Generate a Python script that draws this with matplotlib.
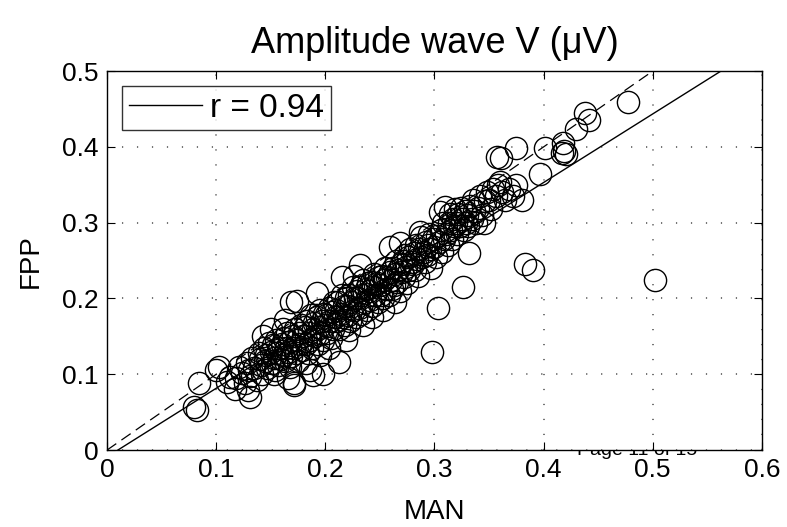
import matplotlib
matplotlib.use("Agg")
import matplotlib.pyplot as plt
import numpy as np

plt.rcParams['font.family'] = ['Liberation Sans', 'DejaVu Sans']

# --- data ---
man = [
    0.080, 0.082, 0.084, 0.100, 0.103, 0.110, 0.113, 0.117, 0.129, 0.131, 0.171, 0.189,
    0.118, 0.121, 0.124, 0.126,
    0.128, 0.131, 0.133, 0.135, 0.137, 0.130,
    0.139, 0.141, 0.142, 0.144, 0.145, 0.146, 0.147, 0.140, 0.143, 0.148,
    0.150, 0.151, 0.152, 0.153, 0.154, 0.155, 0.156, 0.157, 0.158, 0.159, 0.150, 0.153,
    0.160, 0.161, 0.162, 0.163, 0.164, 0.165, 0.166, 0.167, 0.168, 0.169, 0.161, 0.166, 0.163,
    0.170, 0.171, 0.172, 0.173, 0.174, 0.175, 0.176, 0.177, 0.178, 0.179, 0.171, 0.174, 0.169,
    0.180, 0.181, 0.182, 0.183, 0.184, 0.185, 0.186, 0.187, 0.188, 0.189, 0.182, 0.186,
    0.190, 0.191, 0.192, 0.193, 0.194, 0.195, 0.196, 0.197, 0.198, 0.199, 0.192, 0.195, 0.198,
    0.200, 0.201, 0.202, 0.203, 0.204, 0.205, 0.206, 0.207, 0.208, 0.209, 0.203,
    0.210, 0.211, 0.212, 0.213, 0.214, 0.215, 0.216, 0.217, 0.218, 0.219, 0.213, 0.215, 0.219,
    0.220, 0.221, 0.222, 0.223, 0.224, 0.225, 0.226, 0.227, 0.228, 0.229, 0.222, 0.226,
    0.230, 0.231, 0.232, 0.233, 0.234, 0.235, 0.236, 0.237, 0.238, 0.239, 0.232, 0.235,
    0.240, 0.241, 0.242, 0.243, 0.244, 0.245, 0.246, 0.247, 0.248, 0.249, 0.243,
    0.250, 0.251, 0.252, 0.253, 0.254, 0.255, 0.256, 0.257, 0.258, 0.259, 0.253,
    0.260, 0.261, 0.262, 0.263, 0.264, 0.265, 0.266, 0.267, 0.268, 0.269, 0.259, 0.268, 0.264,
    0.270, 0.271, 0.272, 0.273, 0.274, 0.275, 0.276, 0.277, 0.278, 0.279,
    0.280, 0.281, 0.282, 0.283, 0.284, 0.285, 0.286, 0.287, 0.288, 0.289,
    0.290, 0.291, 0.292, 0.293, 0.294, 0.295, 0.296, 0.297, 0.298, 0.299,
    0.300, 0.301, 0.302, 0.303, 0.304, 0.305, 0.306, 0.307, 0.308, 0.309,
    0.310, 0.311, 0.312, 0.313, 0.314, 0.315, 0.316, 0.317, 0.318, 0.319,
    0.320, 0.321, 0.322, 0.323, 0.324, 0.325, 0.326, 0.327, 0.328, 0.329,
    0.330, 0.331, 0.332, 0.333, 0.334, 0.335, 0.336, 0.338,
    0.340, 0.342, 0.344, 0.346, 0.348, 0.345,
    0.350, 0.352, 0.354, 0.356, 0.358, 0.357, 0.360,
    0.361, 0.362, 0.365, 0.368, 0.372, 0.375, 0.375, 0.380, 0.383, 0.390, 0.397, 0.401,
    0.417, 0.419, 0.421, 0.418, 0.430, 0.438, 0.442, 0.477, 0.502,
]
fpp = [
    0.057, 0.053, 0.088, 0.106, 0.110, 0.090, 0.097, 0.081, 0.079, 0.070, 0.086, 0.099,
    0.095, 0.110, 0.102, 0.088,
    0.115, 0.098, 0.122, 0.108, 0.092, 0.105,
    0.128, 0.112, 0.100, 0.135, 0.118, 0.125, 0.108, 0.120, 0.150, 0.141,
    0.130, 0.115, 0.138, 0.122, 0.105, 0.145, 0.128, 0.112, 0.135, 0.120, 0.160, 0.100,
    0.140, 0.126, 0.148, 0.118, 0.135, 0.155, 0.130, 0.142, 0.110, 0.124, 0.160, 0.095, 0.172,
    0.150, 0.135, 0.160, 0.128, 0.145, 0.118, 0.155, 0.140, 0.165, 0.132, 0.088, 0.197, 0.195,
    0.150, 0.162, 0.140, 0.170, 0.128, 0.155, 0.145, 0.178, 0.135, 0.160, 0.115, 0.105,
    0.168, 0.150, 0.175, 0.140, 0.162, 0.185, 0.155, 0.170, 0.145, 0.180, 0.207, 0.125, 0.100,
    0.165, 0.178, 0.155, 0.188, 0.170, 0.148, 0.182, 0.160, 0.195, 0.175, 0.135,
    0.185, 0.170, 0.195, 0.160, 0.180, 0.205, 0.175, 0.190, 0.165, 0.200, 0.116, 0.229, 0.145,
    0.190, 0.178, 0.205, 0.170, 0.195, 0.215, 0.185, 0.200, 0.175, 0.210, 0.158, 0.230,
    0.200, 0.188, 0.215, 0.180, 0.205, 0.225, 0.195, 0.212, 0.185, 0.220, 0.244, 0.165,
    0.210, 0.198, 0.222, 0.190, 0.215, 0.232, 0.205, 0.220, 0.195, 0.228, 0.175,
    0.218, 0.205, 0.230, 0.200, 0.225, 0.240, 0.212, 0.228, 0.205, 0.235, 0.185,
    0.225, 0.212, 0.240, 0.218, 0.232, 0.250, 0.222, 0.238, 0.210, 0.245, 0.268, 0.273, 0.195,
    0.235, 0.250, 0.228, 0.258, 0.242, 0.220, 0.255, 0.238, 0.265, 0.248,
    0.245, 0.260, 0.238, 0.270, 0.252, 0.230, 0.265, 0.288, 0.281, 0.255,
    0.262, 0.248, 0.275, 0.258, 0.270, 0.285, 0.265, 0.240, 0.129, 0.278,
    0.268, 0.255, 0.282, 0.187, 0.275, 0.314, 0.290, 0.262, 0.300, 0.278,
    0.321, 0.285, 0.270, 0.300, 0.312, 0.290, 0.278, 0.305, 0.295, 0.318,
    0.300, 0.285, 0.312, 0.295, 0.320, 0.305, 0.215, 0.290, 0.315, 0.300,
    0.310, 0.295, 0.260, 0.322, 0.305, 0.330, 0.315, 0.300,
    0.320, 0.335, 0.310, 0.328, 0.340, 0.300,
    0.330, 0.318, 0.345, 0.335, 0.350, 0.387, 0.354,
    0.385, 0.340, 0.330, 0.345, 0.335, 0.350, 0.399, 0.330, 0.245, 0.238, 0.364, 0.398,
    0.392, 0.394, 0.391, 0.405, 0.424, 0.445, 0.435, 0.459, 0.224,
]
r_label = "r = 0.94"
fit_slope = 0.905
fit_intercept = -0.009
xticks = [0, 0.1, 0.2, 0.3, 0.4, 0.5, 0.6]
yticks = [0, 0.1, 0.2, 0.3, 0.4, 0.5]

fig = plt.figure(figsize=(7.87, 5.27), dpi=100)
ax = fig.add_axes([0.136, 0.146, 0.832, 0.719])

ax.plot(man, fpp, 'o', mfc='none', mec='black', ms=16, mew=1.0, zorder=3)
xs = np.array([0.0, 0.6])
ax.plot(xs, fit_slope * xs + fit_intercept, '-', color='black', lw=1.0,
        label=r_label, zorder=4)
ax.plot(xs, xs, color='black', lw=0.9, dashes=(9, 5), zorder=4)

ax.set_xlim(0, 0.6)
ax.set_ylim(0, 0.5)
ax.set_xticks(xticks)
ax.set_yticks(yticks)
ax.set_xticklabels(["0", "0.1", "0.2", "0.3", "0.4", "0.5", "0.6"])
ax.set_yticklabels(["0", "0.1", "0.2", "0.3", "0.4", "0.5"])
ax.tick_params(direction='in', length=6, width=0.8, labelsize=19, top=True, right=True, pad=6)
ax.grid(True, color='0.3', linestyle=(0, (0.8, 9)), linewidth=1.1)
for s in ax.spines.values():
    s.set_linewidth(1.0)

ax.set_title("Amplitude wave V (\u03bcV)", fontsize=26, pad=13)
ax.set_xlabel("MAN", fontsize=20, labelpad=12)
ax.set_ylabel("FPP", fontsize=20, labelpad=13)

leg = ax.legend(loc='upper left', fontsize=24, frameon=True, fancybox=False,
                edgecolor='black', handlelength=2.2, borderpad=0.2,
                handletextpad=0.25, borderaxespad=0.45)
leg.get_frame().set_linewidth(1.0)

fig.text(577 / 787, (527 - 455) / 527, "Page 11 of 15", fontsize=14, zorder=-1,
         ha='left', va='baseline')

fig.savefig("out.png", dpi=100)
